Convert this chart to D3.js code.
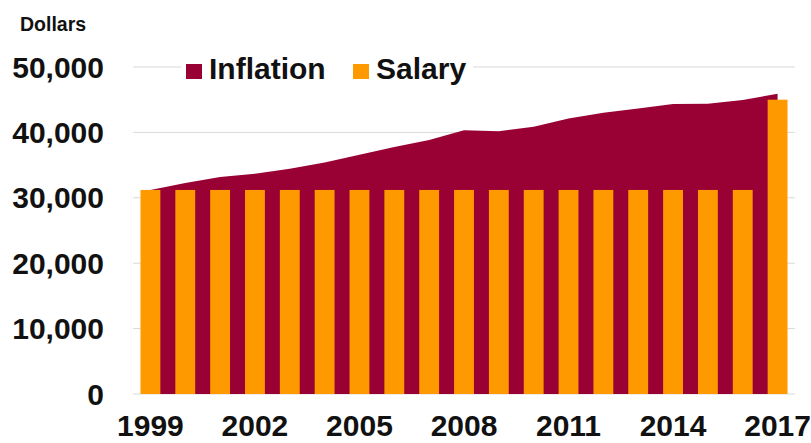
<!DOCTYPE html>
<html>
<head>
<meta charset="utf-8">
<script src="https://cdn.jsdelivr.net/npm/d3@7"></script>
<style>
  body { margin: 0; background: #fff; }
  svg { display: block; font-family: "Liberation Sans", Arial, sans-serif; font-weight: bold; }
</style>
</head>
<body>
<svg id="chart" width="811" height="443"></svg>
<script>
// data
const years = d3.range(1999, 2018);
const salary = [31200, 31200, 31200, 31200, 31200, 31200, 31200, 31200, 31200, 31200,
                31200, 31200, 31200, 31200, 31200, 31200, 31200, 31200, 45000];
const inflation = [31200, 32250, 33170, 33690, 34460, 35380, 36570, 37750, 38820, 40320,
                   40170, 40850, 42120, 43000, 43640, 44330, 44380, 44950, 45900];
const yTicks = [0, 10000, 20000, 30000, 40000, 50000];
const xLabels = [1999, 2002, 2005, 2008, 2011, 2014, 2017];

const maroon = "#990033";
const orange = "#ff9900";

drawChart();

function drawChart() {
    const svg = d3.select("#chart");
    const plot = { left: 133, right: 795, top: 67, bottom: 394 };

    const x = d3.scaleBand()
        .domain(years)
        .range([plot.left, plot.right])
        .paddingInner(0.43)
        .paddingOuter(0.215);

    const y = d3.scaleLinear()
        .domain([0, 50000])
        .range([plot.bottom, plot.top]);

    const cx = d => x(d) + x.bandwidth() / 2;

    // gridlines
    svg.append("g")
        .selectAll("line")
        .data(yTicks)
        .join("line")
        .attr("x1", plot.left)
        .attr("x2", plot.right)
        .attr("y1", d => y(d))
        .attr("y2", d => y(d))
        .attr("stroke", "#d9d9d9")
        .attr("stroke-width", 1);

    // y labels
    svg.append("g")
        .selectAll("text")
        .data(yTicks)
        .join("text")
        .attr("x", 104)
        .attr("y", d => y(d))
        .attr("dy", "0.35em")
        .attr("text-anchor", "end")
        .attr("font-size", 30)
        .attr("fill", "#111")
        .text(d => d3.format(",")(d));

    svg.append("text")
        .attr("x", 20)
        .attr("y", 31)
        .attr("font-size", 19.5)
        .attr("fill", "#111")
        .text("Dollars");

    // inflation area behind the bars
    const area = d3.area()
        .x((d, i) => cx(years[i]))
        .y0(y(0))
        .y1(d => y(d));

    svg.append("path")
        .datum(inflation)
        .attr("d", area)
        .attr("fill", maroon);

    // salary bars
    svg.append("g")
        .selectAll("rect")
        .data(salary)
        .join("rect")
        .attr("x", (d, i) => x(years[i]))
        .attr("width", x.bandwidth())
        .attr("y", d => y(d))
        .attr("height", d => y(0) - y(d))
        .attr("fill", orange);

    // x labels (kept just inside the bottom edge)
    svg.append("g")
        .selectAll("text")
        .data(xLabels)
        .join("text")
        .attr("x", d => cx(d))
        .attr("y", 436)
        .attr("text-anchor", "middle")
        .attr("font-size", 30)
        .attr("fill", "#111")
        .text(d => d);

    // legend
    const legend = svg.append("g");
    legend.append("rect")
        .attr("x", 181).attr("y", 54)
        .attr("width", 292).attr("height", 30)
        .attr("fill", "#fff");

    const items = [
        { name: "Inflation", color: maroon, x: 186 },
        { name: "Salary", color: orange, x: 353 }
    ];
    items.forEach(it => {
        legend.append("rect")
            .attr("x", it.x).attr("y", 64)
            .attr("width", 16).attr("height", 15)
            .attr("fill", it.color);
        legend.append("text")
            .attr("x", it.x + 23)
            .attr("y", 79)
            .attr("font-size", 30)
            .attr("fill", "#111")
            .text(it.name);
    });
}
</script>
</body>
</html>
